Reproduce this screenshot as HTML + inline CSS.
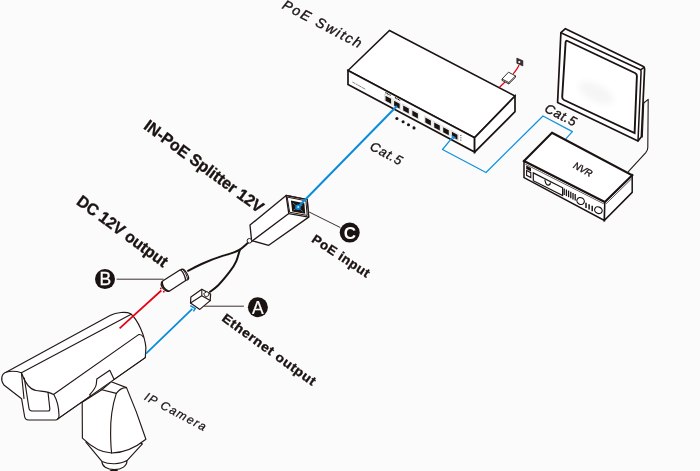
<!DOCTYPE html>
<html lang="en">
<head>
<meta charset="utf-8">
<title>IN-PoE Splitter 12V connection diagram</title>
<style>
  html,body{margin:0;padding:0;background:#fbfbfb;}
  body{width:700px;height:471px;overflow:hidden;}
  svg{display:block;will-change:transform;opacity:.999;}
  .ln{fill:none;stroke:#231815;stroke-width:1.15;stroke-linecap:round;stroke-linejoin:round;}
  .lw{fill:#fff;stroke:#231815;stroke-width:1.15;stroke-linecap:round;stroke-linejoin:round;}
  .hv{fill:#fff;stroke:#1a1311;stroke-width:1.7;stroke-linejoin:miter;}
  .hl{fill:none;stroke:#1a1311;stroke-width:1.7;stroke-linecap:round;stroke-linejoin:round;}
  .cab{fill:none;stroke:#1a1311;stroke-width:2;stroke-linecap:round;}
  .bl1{fill:none;stroke:#1292dc;stroke-width:1.25;stroke-linejoin:round;}
  .bl2{fill:none;stroke:#0a8cdb;stroke-width:2;stroke-linecap:butt;}
  .rd{fill:none;stroke:#e60012;stroke-width:1.8;}
  .rd1{fill:none;stroke:#e60012;stroke-width:1.2;}
  text{font-family:"Liberation Sans",sans-serif;fill:#1a1311;}
  .it{font-style:italic;}
  .bd{font-weight:bold;}
  .hb{stroke:#1a1311;stroke-width:.35;}
  .hi{stroke:#1a1311;stroke-width:.25;}
</style>
</head>
<body>
<svg width="700" height="471" viewBox="0 0 700 471">
<defs><filter id="bl" x="-30%" y="-30%" width="160%" height="160%"><feGaussianBlur stdDeviation="3"/></filter></defs>
<rect width="700" height="471" fill="#fbfbfb"/>


<!-- ============ PoE switch ============ -->
<g id="switch">
  <path class="hv" d="M389.5 30.5 L515 96 L474.6 137.7 L348 70.5 Z" style="stroke-width:1.5"/>
  <path class="hv" d="M348 70.5 L474.6 137.7 L474.6 152.1 L348 84.5 Z"/>
  <path class="hv" d="M474.6 137.7 L515 96 L515 111.7 L474.6 152.1 Z"/>
</g>

<g id="ports">
<path d="M384.6 94.1 L392.0 98.1 L392.0 104.7 L384.6 100.7 Z" fill="#fff" stroke="#c4c0bf" stroke-width="0.5"/>
<path d="M385.5 95.7 L391.1 98.7 L391.1 103.7 L385.5 100.7 Z" fill="#1a1311"/>
<path d="M393.2 99.2 L400.6 103.2 L400.6 109.8 L393.2 105.8 Z" fill="#fff" stroke="#c4c0bf" stroke-width="0.5"/>
<path d="M394.1 100.8 L399.7 103.8 L399.7 108.8 L394.1 105.8 Z" fill="#1a1311"/>
<path d="M402.3 103.9 L409.7 107.9 L409.7 114.5 L402.3 110.5 Z" fill="#fff" stroke="#c4c0bf" stroke-width="0.5"/>
<path d="M403.2 105.5 L408.8 108.5 L408.8 113.5 L403.2 110.5 Z" fill="#1a1311"/>
<path d="M411.4 108.8 L418.8 112.8 L418.8 119.4 L411.4 115.4 Z" fill="#fff" stroke="#c4c0bf" stroke-width="0.5"/>
<path d="M412.3 110.4 L417.9 113.4 L417.9 118.4 L412.3 115.4 Z" fill="#1a1311"/>
<path d="M424.4 115.8 L431.8 119.8 L431.8 126.4 L424.4 122.4 Z" fill="#fff" stroke="#c4c0bf" stroke-width="0.5"/>
<path d="M425.3 117.4 L430.9 120.4 L430.9 125.4 L425.3 122.4 Z" fill="#1a1311"/>
<path d="M433.3 120.8 L440.7 124.8 L440.7 131.4 L433.3 127.4 Z" fill="#fff" stroke="#c4c0bf" stroke-width="0.5"/>
<path d="M434.2 122.4 L439.8 125.4 L439.8 130.4 L434.2 127.4 Z" fill="#1a1311"/>
<path d="M442.3 125.6 L449.7 129.6 L449.7 136.2 L442.3 132.2 Z" fill="#fff" stroke="#c4c0bf" stroke-width="0.5"/>
<path d="M443.2 127.2 L448.8 130.2 L448.8 135.2 L443.2 132.2 Z" fill="#1a1311"/>
<path d="M451.0 130.2 L458.4 134.2 L458.4 140.8 L451.0 136.8 Z" fill="#fff" stroke="#c4c0bf" stroke-width="0.5"/>
<path d="M451.9 131.8 L457.5 134.8 L457.5 139.8 L451.9 136.8 Z" fill="#1a1311"/>
<circle cx="396.9" cy="118.5" r="1.55" fill="#1a1311"/>
<circle cx="403.1" cy="121.8" r="1.55" fill="#1a1311"/>
<circle cx="408.5" cy="124.8" r="1.55" fill="#1a1311"/>
<circle cx="414" cy="127.9" r="1.55" fill="#1a1311"/>
<path d="M385.4 92.6 L390.6 95.4 M394.9 97.6 L400.2 100.4" stroke="#1a1311" stroke-width="1.1" stroke-dasharray="1.2 .5" fill="none"/>
<circle cx="460.9" cy="135.5" r="0.55" fill="#1a1311"/>
<circle cx="460.9" cy="137.8" r="0.55" fill="#1a1311"/>
<circle cx="460.9" cy="140.1" r="0.55" fill="#1a1311"/>
<path d="M352.4 82 L365.7 89.4" stroke="#7c7674" stroke-width="0.9" stroke-dasharray="3.4 .5 2.2 .5 4 .5" fill="none"/>
</g>
<g id="adapter">
  <path class="rd1" d="M499.3 87.5 L505.5 81.5 M513.2 73.8 C516 70.5 518 68 519 65"/>
  <path d="M508.5 72.2 L515.5 75.9 L515.5 77.3 L508.8 83.9 L502 80.4 L502 79 Z" fill="#fff" stroke="#231815" stroke-width="0.9" stroke-linejoin="round"/>
  <path d="M502 79 L508.8 82.5 L515.5 75.9 M508.8 82.5 L508.8 83.9" fill="none" stroke="#231815" stroke-width="0.9"/>
  <path d="M516.8 58.1 L522.9 60.7 L522.9 65.9 L516.8 63.3 Z" fill="#3a3331" stroke="#231815" stroke-width="0.6"/>
  <circle cx="519.3" cy="62" r="1.1" fill="#fff"/>
</g>
<!-- ============ thin blue Cat.5 (switch -> NVR) ============ -->
<path class="bl1" d="M453.3 136.3 L442.5 149.5 L486 172.5 L543 116 L572.4 131.6 L565.8 138.8"/>
<path d="M451.5 135 L456 137.5 L453 139.5 Z" fill="#1292dc"/>
<!-- ============ thick blue Cat.5 (switch -> splitter) ============ -->

<!-- ============ monitor ============ -->
<g id="stand">
  <path class="ln" d="M643.7 103 L648.2 99.4 L647.8 147.5 Q647.8 150.3 645.8 152.6 L628.3 171.7" style="stroke-width:1.1"/>
  <path class="ln" d="M643.7 103 L642.3 137" style="stroke-width:1.1"/>
</g>
<g id="monitor">
  <path class="hv" d="M560.9 32.7 L565.4 28.7 L643.4 66.6 Q644.7 67.4 644.6 68.9 L641.4 136.8 L638 141 L557.6 102.4 Z" style="stroke-width:1.7;stroke-linejoin:round"/>
  <path class="hl" d="M560.9 32.7 L640 69.5 Q641.2 70.2 641.1 71.5 L638 141 M640.6 69.9 L644.2 67.3" style="stroke-width:1.5"/>
  <path class="hv" d="M567.5 41 L635 73 Q637 74 636.9 76 L634.6 133 L564 100 Q562 99 562.2 96.8 L565.6 42.3 Q565.8 40.2 567.5 41 Z" style="stroke-width:1.9"/>
  <ellipse cx="596" cy="93" rx="19" ry="8.5" transform="rotate(26 596 93)" fill="#f5f5f5" filter="url(#bl)"/>
</g>

<!-- ============ NVR ============ -->
<g id="nvr">
  <path class="hv" d="M524 161 L604.8 202 L604.4 220.4 L524 177.6 Z" style="stroke-width:1.5"/>
  <path class="hv" d="M604.8 202 L632.2 175.2 L632.2 192.4 L604.4 220.4 Z" style="stroke-width:1.5"/>
  <path class="hv" d="M552 132.8 L632.2 175.2 L604.8 202 L524 161 Z" style="stroke-width:2.1"/>
  <path class="ln" d="M606.3 203.6 L631.4 179" style="stroke-width:.7"/>
</g>

<g id="nvrfront">
<path class="ln" d="M525.5 164.2 L603.5 203.7" style="stroke-width:.7"/>
<path d="M526.2 165.5 L531.0 168.0 L531.0 171.4 L526.2 168.9 Z" fill="#1a1311"/>
<path d="M526.6 170.5 L530.8 172.7 L530.8 177.5 L526.6 175.3 Z" fill="#fff" stroke="#1a1311" stroke-width="1.1"/>
<path d="M533.3 172.9 L562.6 187.8 L562.6 195.6 L533.3 180.7 Z" fill="#fff" stroke="#1a1311" stroke-width="1.2"/>
<path d="M544.8 179.6 Q546.0 185.8 548.2 185.1 Q550.4 185.0 550.4 182.4" fill="none" stroke="#1a1311" stroke-width="1.1"/>
<path d="M564.2 188.4 L564.2 195.0" stroke="#1a1311" stroke-width="1.3" fill="none"/>
<path d="M566.4 189.5 L566.4 196.1" stroke="#1a1311" stroke-width="1.3" fill="none"/>
<path d="M568.6 190.6 L568.6 197.2" stroke="#1a1311" stroke-width="1.3" fill="none"/>
<path d="M570.8 191.7 L570.8 198.3" stroke="#1a1311" stroke-width="1.3" fill="none"/>
<path d="M573.0 192.9 L573.0 199.5" stroke="#1a1311" stroke-width="1.3" fill="none"/>
<path d="M575.2 194.0 L575.2 200.6" stroke="#1a1311" stroke-width="1.3" fill="none"/>
<ellipse cx="580.6" cy="201" rx="3.8" ry="3.3" transform="rotate(27 580.6 201)" fill="#fff" stroke="#1a1311" stroke-width="1.2"/>
<path d="M586.0 202.7 L586.0 208.1" stroke="#1a1311" stroke-width="1.5" fill="none"/>
<path d="M589.1 204.2 L589.1 209.6" stroke="#1a1311" stroke-width="1.5" fill="none"/>
<path d="M592.2 205.8 L592.2 211.2" stroke="#1a1311" stroke-width="1.5" fill="none"/>
<ellipse cx="598.4" cy="210.2" rx="3.9" ry="3.2" transform="rotate(27 598.4 210.2)" fill="#fff" stroke="#1a1311" stroke-width="1.2"/>
</g>
<!-- ============ splitter ============ -->
<g id="cables">
  <path class="cab" d="M247.8 243.1 C245 245.5 242.5 248 239.9 249.6 C234 253 229 254 223.3 255.6 C215 258.2 208 261 201.6 264 C196.5 266.4 192 268.7 188 270.8"/>
  <path class="cab" d="M239.9 249.6 C238.5 254 237.8 257.5 236.3 261.2 C234.5 265.5 232 269 229 272.7 C225.5 277 222 281.5 218 285.5 C215.5 288 212.5 290 210 291.8"/>
</g>
<g id="splitter">
  <path class="lw" d="M286.1 195.5 L307.2 199.6 L308.7 217.1 L268.7 245.3 L251.6 240.6 L250 225.1 Z" style="stroke-width:1.3"/>
  <path class="ln" d="M288.8 213.6 L252.2 241" style="stroke-width:1.3"/>
  <path class="lw" d="M286.1 195.5 L307.2 199.6 L308.7 217.1 L288.8 213.6 Z" style="stroke-width:1.3"/>
  <path class="ln" d="M287.6 197.2 L305.9 200.8 L307.2 215.4 L290 212.3 Z" style="stroke-width:1"/>
  <path d="M290.9 200.6 L304.4 203.2 L305.2 213.8 L292.2 211.4 Z" fill="#1a1311"/>
  <path d="M293 203 L302.8 211.6 M302.5 205 L293.5 210" stroke="#8d8d8d" stroke-width="0.7" fill="none"/>
  <circle cx="249.4" cy="240.8" r="2.3" fill="#fbfbfb" stroke="#231815" stroke-width="1"/>
</g>
<path class="bl2" d="M396.9 106 L298.5 206.5"/>
<circle cx="298" cy="207.2" r="2.7" fill="#0a8cdb"/>
<circle cx="298.2" cy="207" r="0.9" fill="#cfeaff"/>


<!-- ============ camera ============ -->
<g id="camera">
  <!-- mount -->
  <path class="lw" d="M101.9 461.4 C102 466 106.5 469.6 114.3 469.6 C122 469.6 127 466 127 460.6 Z"/>
  <path class="lw" d="M85.9 442.1 L101.9 461.4 C109 464.6 120 464.6 127 460.6 L142.4 443.9 L130 440 L95 440 L85.9 442.1 Z"/>
  <path class="ln" d="M110.5 471 Q114 469.8 117.3 471" style="stroke-width:1.6"/>
  <path class="lw" d="M82.2 402.2 L101.8 389.8 L111.2 381.8 L126.5 387.6 L136.3 411.9 L145.9 439.3 C137 446.5 126 453 111.6 453 C99 452.6 90 445.5 82.4 438.1 Z"/>
  <path class="ln" d="M101.8 389.8 L116.3 393.4 C119 389.5 122.5 387.5 126.5 387.6"/>
  <path class="ln" d="M116.3 393.4 C112.5 405 110.3 420 110.6 434 C110.7 441 111 448 111.6 453"/>
  <!-- body -->
  <path class="lw" d="M6.5 372 L110.5 315.2 C116 312.3 126 311.3 130.7 313.7 C138 320 145 336 145.9 347.6 L145.3 357.6 L57.8 418.9 Q57 420 55.5 420 L28.5 420 Q25.2 420 24.6 416.5 L21.6 398.8 L3.9 385 C0 380 1.5 373.5 6.5 372 Z"/>
  <path class="ln" d="M21.4 372.7 L130.7 314.4"/>
  <path class="ln" d="M6.5 372 Q14 370.3 21.4 372.7 L24 398.5"/>
  <path class="ln" d="M21.4 372.7 C24 380 28 389 36 390.5 C42 391.5 48 391 53.5 394.5 L138.6 334.6 Q141.5 334 143.3 337"/>
  <path class="ln" d="M53.8 394.5 C57 400 58.8 408 59 415 Q59.3 418 57.8 418.9"/>
  <path class="ln" d="M24.3 378 L29 408.5 Q29.5 411 32 411 L48.3 411 Q50 411 49.8 408.5 L48 392.3"/>
  <!-- bracket -->
  <path d="M91 396 L89.6 394.8 C93 391 96 388 96.3 384 L96.8 379 L109.8 370.3 L114.1 379.7 Z" fill="#fff"/>
  <path class="ln" d="M91.3 396.2 L89.6 394.8 C93 391 96 388 96.3 384 L96.8 379 L109.8 370.3 L114.1 379.5"/>
  <path class="ln" d="M145.3 357.6 L57.8 418.9"/>
</g>

<g id="connectors">
  <!-- DC barrel -->
  <ellipse cx="184.6" cy="274.6" rx="6.1" ry="2.6" transform="rotate(59 184.6 274.6)" fill="#fff" stroke="#231815" stroke-width="1.2"/>
  <path class="lw" d="M163.4 280.5 L180.3 269.8 C182.8 271.5 185 276.5 185.7 280.5 L169.2 291.2 C166.5 291.6 163.2 289.5 161.6 286.3 C160.7 284 161.5 281.8 163.4 280.5 Z" style="stroke-width:1.3"/>
  <path class="ln" d="M182.3 269.2 C184.8 271 187 275.5 187.6 279.3" style="stroke-width:1"/>
  <path class="ln" d="M162.2 282 C161.6 285.8 164.8 290 168.6 291.2" style="stroke-width:1.6"/>
  <!-- RJ45 -->
  <path class="lw" d="M201.8 289.3 L210.6 294.1 L210.2 300.6 L199.8 309.4 L190.5 303 L190.9 296.9 Z" style="stroke-width:1.2"/>
  <path class="ln" d="M190.5 303 L201.8 295.7 L210.2 300.6 M201.8 295.7 L201.8 289.3" style="stroke-width:1.1"/>
  <path class="lw" d="M204 293.4 L206.8 291.6 L209 293 L208.6 295.6 L206 297 Z" style="stroke-width:.9"/>
</g>
<g id="feeds">
  <path class="rd" d="M161.3 290.5 L119.6 328.4" style="stroke-width:1.7"/>
  <circle cx="160.8" cy="288.4" r=".9" fill="#e60012"/><circle cx="163.8" cy="291.7" r=".9" fill="#e60012"/>
  <path class="bl2" d="M192.3 308.8 L146 353.6" style="stroke-width:1.8"/>
  <path d="M190.3 305.6 L195.2 308.6 L193.4 311.3" fill="none" stroke="#0a8cdb" stroke-width="1.5" stroke-linejoin="miter"/>
</g>
<g id="callouts">
  <path class="ln" d="M117 279.2 L163.2 279.2" style="stroke-width:.9"/>
  <path class="ln" d="M204.5 306.2 L243.5 306.2" style="stroke-width:.9"/>
  <path class="ln" d="M308.9 211.9 L340 227.4" style="stroke-width:.9"/>
  <circle cx="105" cy="279.1" r="10" fill="#1a1311"/>
  <circle cx="257.9" cy="307.2" r="10" fill="#1a1311"/>
  <circle cx="349.7" cy="232.6" r="10" fill="#1a1311"/>
  <text x="105.3" y="285.4" font-size="17.5" text-anchor="middle" style="fill:#fff;stroke:#fff;stroke-width:.3">B</text>
  <text x="257.9" y="313.5" font-size="17.5" text-anchor="middle" style="fill:#fff;stroke:#fff;stroke-width:.2">A</text>
  <text x="349.9" y="238.8" font-size="17" text-anchor="middle" class="bd" style="fill:#fff">C</text>
</g>
<!-- ============ labels ============ -->
<g id="labels">
  <text class="it hb" font-size="14" transform="translate(281.2 7.9) rotate(27.6)" textLength="87.5" lengthAdjust="spacing" style="word-spacing:.5px">PoE Switch</text>
  <text class="bd hb" font-size="16.3" transform="translate(142.7 128) rotate(36.4)" textLength="144" lengthAdjust="spacingAndGlyphs">IN-PoE Splitter 12V</text>
  <text class="bd hb" font-size="16.3" transform="translate(75.6 203.4) rotate(36.4)" textLength="108.5" lengthAdjust="spacingAndGlyphs">DC 12V output</text>
  <text class="bd hb" font-size="12.8" transform="translate(310.8 241.2) rotate(33.5)" textLength="67" lengthAdjust="spacingAndGlyphs" style="letter-spacing:.5px">PoE input</text>
  <text class="bd hb" font-size="12.8" transform="translate(221 320) rotate(36)" textLength="113" lengthAdjust="spacingAndGlyphs" style="letter-spacing:.5px">Ethernet output</text>
  <text class="it hi" font-size="12" transform="translate(143.4 399.2) rotate(28)" textLength="68" lengthAdjust="spacing">IP Camera</text>
  <text class="it hb" font-size="13" transform="translate(369.1 149) rotate(28.5)" textLength="34.5" lengthAdjust="spacing">Cat.5</text>
  <text class="it hb" font-size="13" transform="translate(543.8 111.3) rotate(27)" textLength="33.5" lengthAdjust="spacing">Cat.5</text>
  <text class="it hb" font-size="9.6" transform="translate(572.6 167.4) rotate(29)" textLength="20" lengthAdjust="spacing">NVR</text>
</g>
</svg>
</body>
</html>
